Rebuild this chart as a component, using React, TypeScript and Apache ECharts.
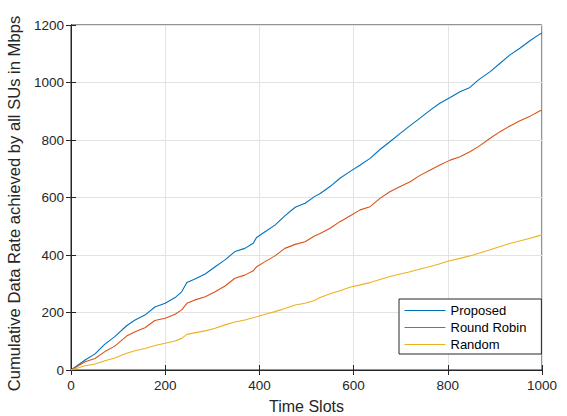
import React, { useEffect, useRef } from "react";
import * as echarts from "echarts";

const proposedX = [0, 30, 51, 72, 93, 118, 136, 157, 178, 200, 221, 235, 246, 262, 285, 306, 327, 348, 369, 387, 394, 412, 433, 454, 476, 497, 517, 529, 550, 571, 592, 614, 635, 656, 677, 699, 720, 741, 762, 783, 805, 826, 847, 865, 890, 911, 932, 953, 975, 996, 1000];
const proposedY = [0, 35, 56, 90, 116, 154, 174, 191, 219, 232, 252, 272, 304, 316, 334, 359, 383, 412, 423, 441, 461, 481, 504, 536, 566, 580, 603, 614, 638, 667, 690, 713, 736, 767, 794, 823, 850, 876, 903, 928, 948, 968, 983, 1009, 1038, 1067, 1096, 1119, 1146, 1169, 1172];

const roundRobinX = [0, 30, 51, 72, 93, 118, 136, 157, 178, 200, 221, 235, 246, 262, 285, 306, 327, 348, 369, 387, 394, 412, 433, 454, 476, 497, 517, 529, 550, 571, 592, 614, 635, 656, 677, 699, 720, 741, 762, 783, 805, 826, 847, 865, 890, 911, 932, 953, 975, 996, 1000];
const roundRobinY = [0, 29, 40, 64, 83, 118, 133, 147, 172, 180, 194, 209, 232, 243, 255, 272, 292, 319, 330, 345, 359, 377, 397, 423, 437, 446, 466, 475, 493, 516, 536, 557, 568, 597, 620, 638, 655, 677, 695, 713, 730, 742, 759, 777, 806, 829, 849, 867, 883, 902, 903];

const randomX = [0, 30, 51, 72, 93, 118, 136, 157, 178, 200, 221, 235, 246, 262, 285, 306, 327, 348, 369, 394, 412, 433, 454, 476, 497, 517, 529, 550, 571, 592, 614, 635, 656, 677, 699, 720, 741, 761, 780, 800, 830, 854, 893, 932, 975, 1000];
const randomY = [0, 15, 21, 32, 42, 58, 67, 75, 85, 93, 101, 110, 124, 129, 136, 145, 157, 167, 174, 185, 194, 203, 214, 226, 232, 242, 252, 265, 276, 288, 296, 304, 315, 325, 334, 342, 351, 359, 368, 378, 390, 400, 420, 440, 458, 470];

const seriesNames = ["Proposed", "Round Robin", "Random"];
const seriesColors = ["#0072BD", "#D95319", "#EDB120"];

const zip = (xs: number[], ys: number[]) => xs.map((x, i) => [x, ys[i]]);

const FONT = "Liberation Sans, Arial, Helvetica, sans-serif";
const AXIS_COLOR = "#262626";

export default function App() {
  const ref = useRef<HTMLDivElement>(null);
  useEffect(() => {
    if (!ref.current) return;
    const chart = echarts.init(ref.current, undefined, { renderer: "svg" });
    const tickCommon = { inside: true, length: 5, lineStyle: { color: AXIS_COLOR, width: 1 } };
    const labelCommon = { color: AXIS_COLOR, fontSize: 13.5, fontFamily: FONT, formatter: (v: number) => String(v) };
    chart.setOption({
      animation: false,
      backgroundColor: "#ffffff",
      grid: { left: 71, right: 25, top: 25, bottom: 46, containLabel: false, outerBoundsMode: "none", show: true, borderColor: AXIS_COLOR, borderWidth: 1, backgroundColor: "transparent" },
      xAxis: [
        {
          type: "value", min: 0, max: 1000, interval: 200, position: "bottom",
          name: "Time Slots", nameLocation: "middle", nameGap: 28,
          nameTextStyle: { color: AXIS_COLOR, fontSize: 16, fontFamily: FONT },
          axisLine: { show: true, lineStyle: { color: AXIS_COLOR, width: 1 } },
          axisTick: tickCommon,
          axisLabel: { ...labelCommon, margin: 8 },
          splitLine: { show: true, lineStyle: { color: "#e3e3e3", width: 1 } },
        },
        {
          type: "value", min: 0, max: 1000, interval: 200, position: "top",
          axisLine: { show: true, lineStyle: { color: AXIS_COLOR, width: 1 } },
          axisTick: tickCommon, axisLabel: { show: false }, splitLine: { show: false },
        },
      ],
      yAxis: [
        {
          type: "value", min: 0, max: 1200, interval: 200, position: "left",
          name: "Cumulative Data Rate achieved by all SUs in Mbps", nameLocation: "middle", nameGap: 42,
          nameTextStyle: { color: AXIS_COLOR, fontSize: 16.6, fontFamily: FONT, padding: [0, 12, 0, 0] },
          axisLine: { show: true, lineStyle: { color: AXIS_COLOR, width: 1 } },
          axisTick: tickCommon,
          axisLabel: { ...labelCommon, margin: 7 },
          splitLine: { show: true, lineStyle: { color: "#e3e3e3", width: 1 } },
        },
        {
          type: "value", min: 0, max: 1200, interval: 200, position: "right",
          axisLine: { show: true, lineStyle: { color: AXIS_COLOR, width: 1 } },
          axisTick: tickCommon, axisLabel: { show: false }, splitLine: { show: false },
        },
      ],
      legend: {
        orient: "vertical", left: 399, top: 299,
        data: seriesNames,
        itemWidth: 41, itemHeight: 14, itemGap: 4,
        padding: [5, 15, 3, 5],
        backgroundColor: "#ffffff",
        borderColor: AXIS_COLOR, borderWidth: 1,
        itemStyle: { opacity: 0 },
        lineStyle: { width: 1 },
        textStyle: { color: "#000000", fontSize: 13, fontFamily: FONT, padding: [0, 0, 0, 0] },
      },
      series: [
        { name: seriesNames[0], type: "line", data: zip(proposedX, proposedY), symbol: "none", lineStyle: { color: seriesColors[0], width: 1.1 }, itemStyle: { color: seriesColors[0] } },
        { name: seriesNames[1], type: "line", data: zip(roundRobinX, roundRobinY), symbol: "none", lineStyle: { color: seriesColors[1], width: 1.1 }, itemStyle: { color: seriesColors[1] } },
        { name: seriesNames[2], type: "line", data: zip(randomX, randomY), symbol: "none", lineStyle: { color: seriesColors[2], width: 1.1 }, itemStyle: { color: seriesColors[2] } },
      ],
    });
    return () => chart.dispose();
  }, []);
  return <div ref={ref} style={{ width: 567, height: 416, position: "absolute", left: 0, top: 0 }} />;
}
